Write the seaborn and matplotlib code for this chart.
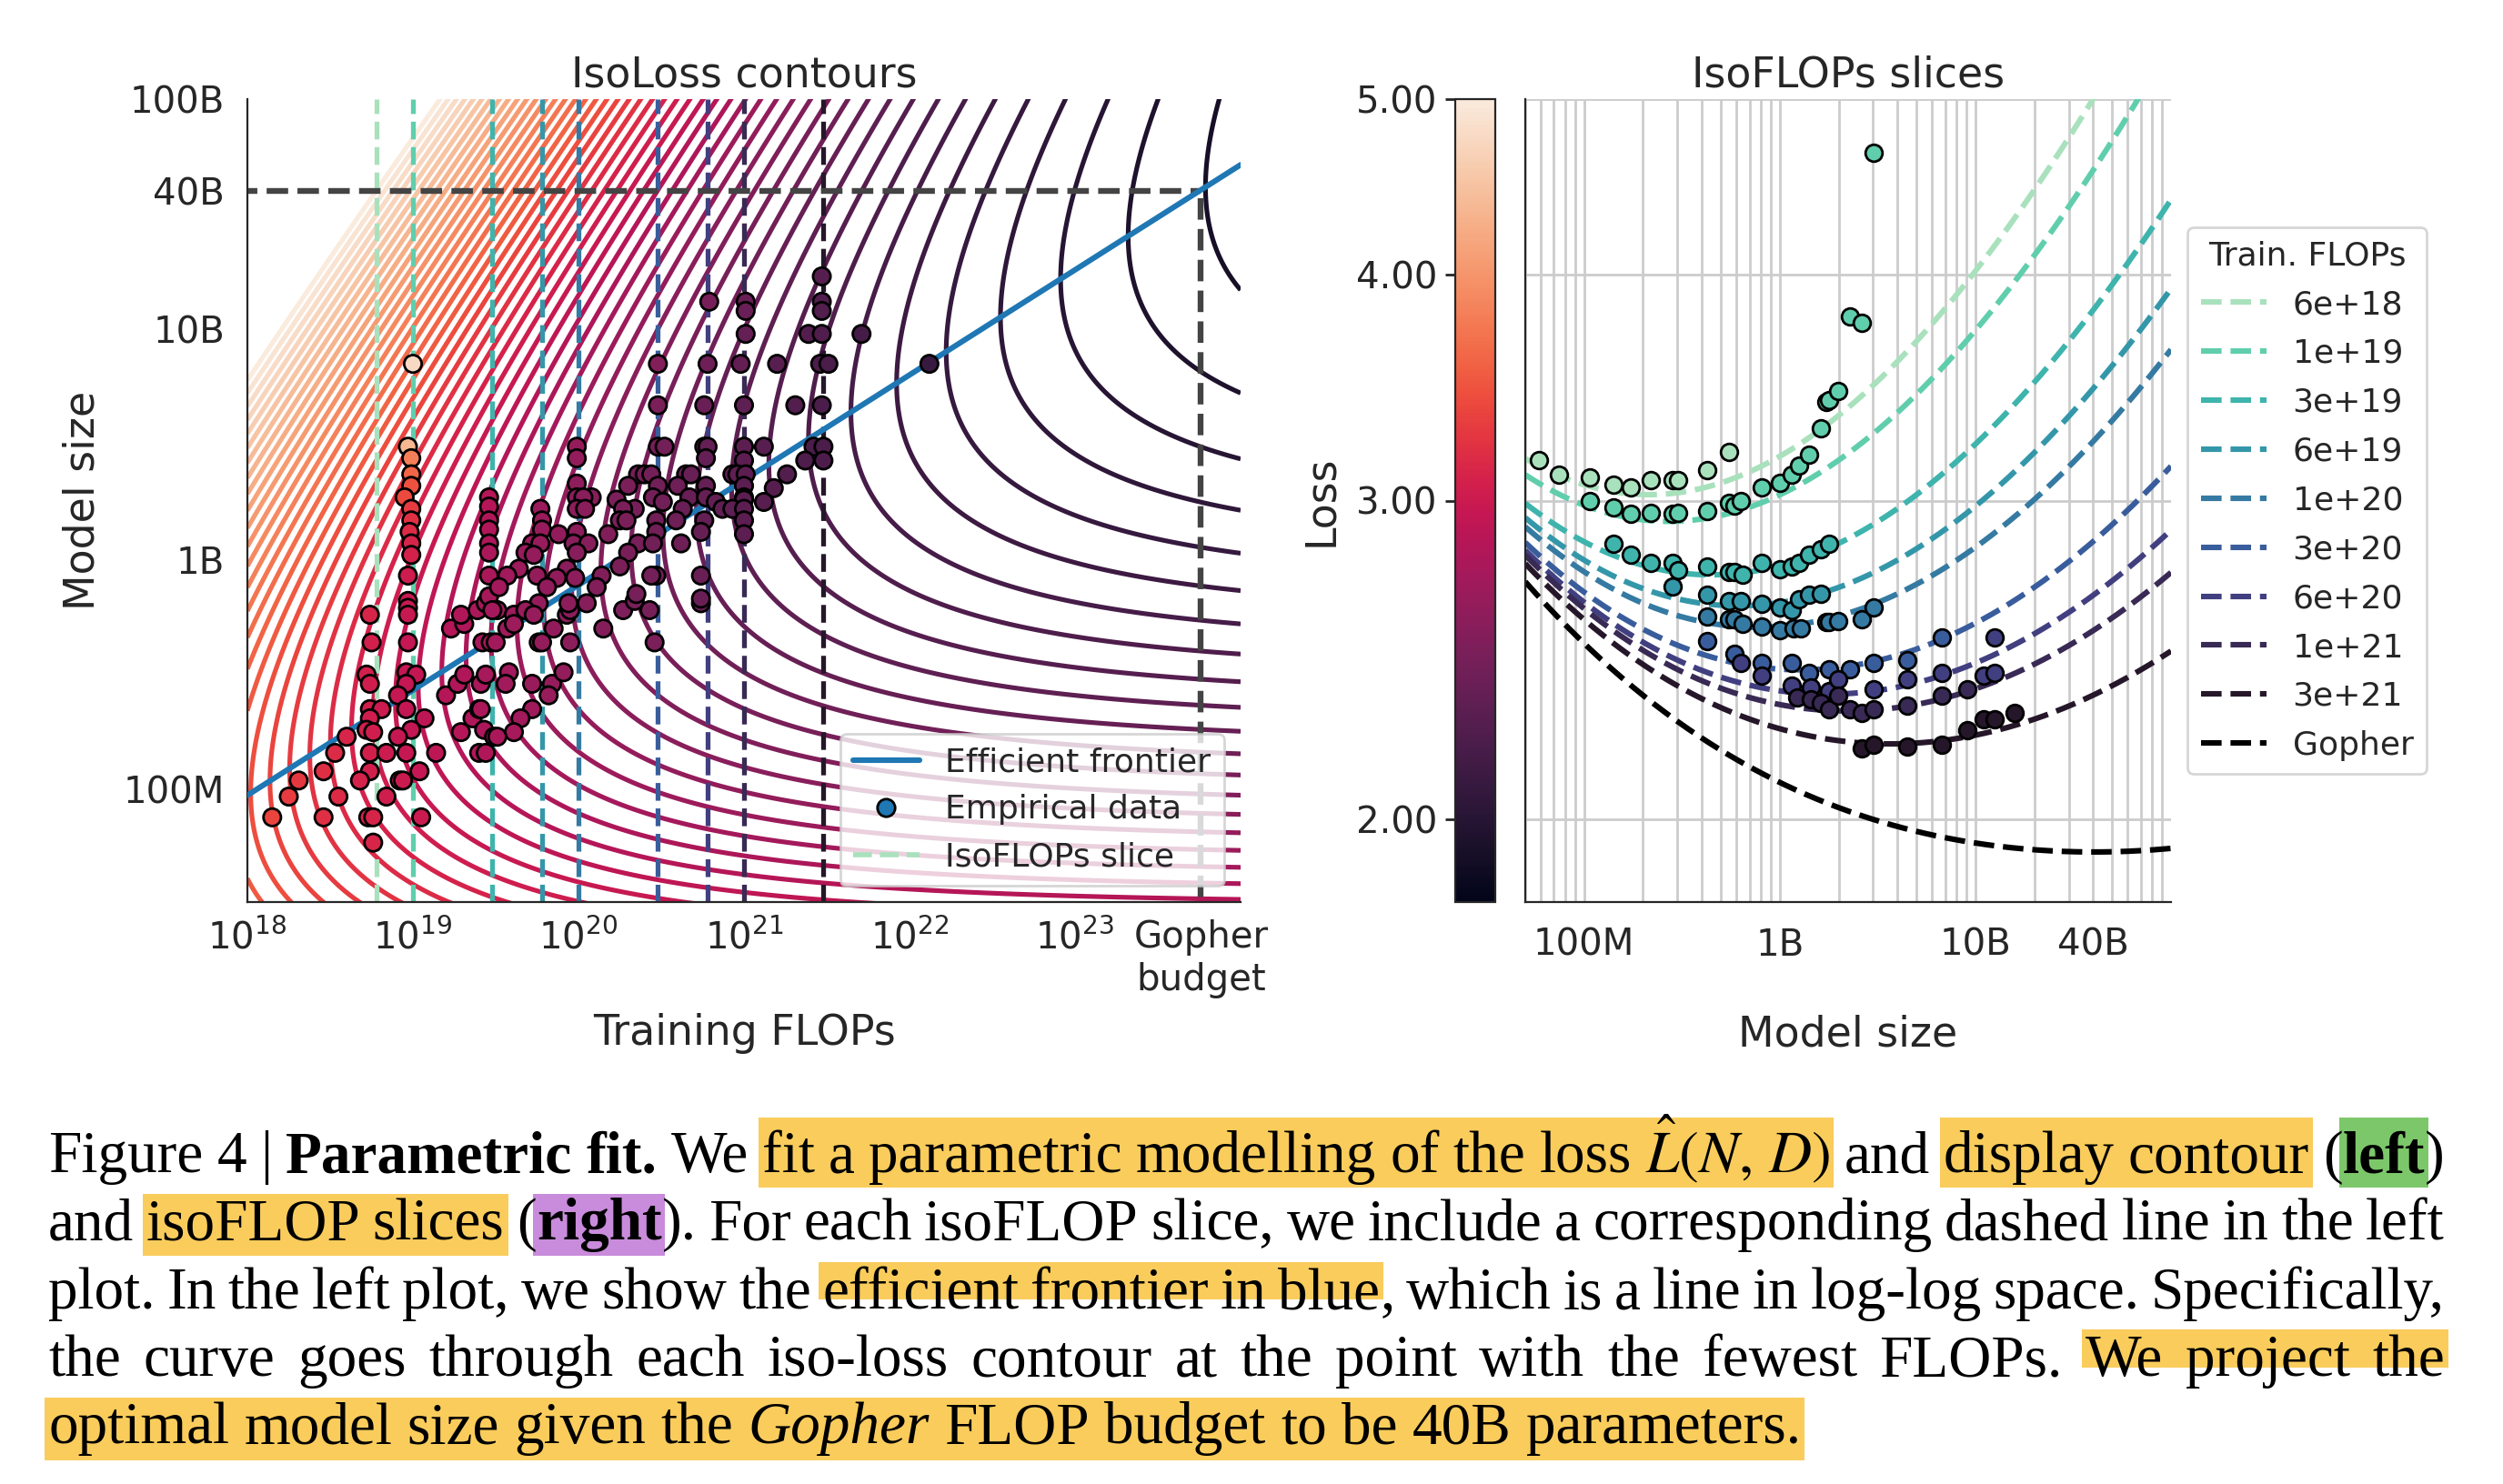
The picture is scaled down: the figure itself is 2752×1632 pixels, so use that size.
import re
import numpy as np
import pandas as pd
import matplotlib
matplotlib.use("Agg")
import matplotlib.pyplot as plt
from matplotlib import ticker
from matplotlib.colors import LogNorm
from matplotlib.lines import Line2D
from matplotlib.patches import Rectangle
import seaborn as sns

# -------------------------------
# fitted parametric loss  L(N, D) = E + A / N^alpha + B / D^beta
# -------------------------------
E, A, B = 1.6934, 406.4, 410.7
alpha, beta = 0.3392, 0.2849

gopher_flops = 5.76e23
gopher_params = 4e10

slice_flops = [6e18, 1e19, 3e19, 6e19, 1e20, 3e20, 6e20, 1e21, 3e21]
slice_labels = ["6e+18", "1e+19", "3e+19", "6e+19", "1e+20", "3e+20", "6e+20", "1e+21", "3e+21"]

flop_ticks = [1e18, 1e19, 1e20, 1e21, 1e22, 1e23, gopher_flops]
flop_ticklabels = [r"$10^{18}$", r"$10^{19}$", r"$10^{20}$", r"$10^{21}$",
                   r"$10^{22}$", r"$10^{23}$", "Gopher\nbudget"]
size_ticks = [1e8, 1e9, 1e10, 4e10, 1e11]
size_ticklabels = ["100M", "1B", "10B", "40B", "100B"]
size_ticks_r = [1e8, 1e9, 1e10, 4e10]
size_ticklabels_r = ["100M", "1B", "10B", "40B"]
loss_ticks = [2, 3, 4, 5]

# empirical runs, left plot: (log10 FLOPs, log10 params, final loss)
runs_small = [(18.74, 8.76, 3.11), (18.75, 8.64, 3.07), (18.72, 8.50, 3.07), (18.74, 8.46, 3.04),
              (18.74, 8.35, 3.05), (18.81, 8.35, 3.01), (18.74, 8.31, 3.04), (18.72, 8.26, 3.05),
              (18.76, 8.25, 3.04), (18.60, 8.23, 3.12), (18.53, 8.16, 3.16), (18.74, 8.16, 3.05),
              (18.84, 8.16, 3.01), (18.96, 8.16, 2.96), (19.14, 8.16, 2.90), (18.46, 8.08, 3.19),
              (18.74, 8.08, 3.05), (18.68, 8.04, 3.09), (18.92, 8.04, 3.00), (18.94, 8.04, 2.99),
              (19.04, 8.08, 2.95), (18.31, 8.04, 3.27), (18.25, 7.97, 3.30), (18.55, 7.97, 3.15),
              (18.84, 7.97, 3.04), (18.15, 7.88, 3.36), (18.46, 7.88, 3.21), (18.73, 7.88, 3.11),
              (18.76, 7.88, 3.10), (19.05, 7.88, 3.00), (18.76, 7.77, 3.12)]
runs_1e19 = [(19.00, 9.85, 4.75), (18.97, 9.49, 4.35), (18.99, 9.44, 3.80), (18.99, 9.37, 3.60),
             (18.99, 9.32, 3.45), (18.95, 9.27, 3.40), (18.99, 9.22, 3.30), (18.99, 9.17, 3.22),
             (18.98, 9.12, 3.16), (18.99, 9.07, 3.12), (18.99, 9.02, 3.08), (18.97, 8.93, 3.02),
             (18.97, 8.82, 2.98), (18.97, 8.79, 2.98), (18.97, 8.76, 2.97), (18.97, 8.64, 2.95),
             (18.96, 8.51, 2.95), (19.02, 8.50, 2.94), (18.96, 8.46, 2.95), (18.91, 8.41, 2.96),
             (18.96, 8.35, 2.94), (19.07, 8.31, 2.90), (18.99, 8.26, 2.93), (18.91, 8.23, 2.96)]
runs_2e19 = [(19.23, 8.70, 2.83), (19.31, 8.72, 2.80), (19.29, 8.76, 2.81), (19.39, 8.78, 2.77),
             (19.44, 8.81, 2.75), (19.42, 8.64, 2.75), (19.47, 8.64, 2.74), (19.20, 8.41, 2.84),
             (19.27, 8.46, 2.81), (19.31, 8.50, 2.80), (19.41, 8.46, 2.75), (19.44, 8.50, 2.74),
             (19.36, 8.31, 2.80), (19.40, 8.35, 2.78), (19.41, 8.35, 2.78), (19.29, 8.25, 2.83),
             (19.43, 8.26, 2.79), (19.49, 8.23, 2.78), (19.40, 8.16, 2.82), (19.44, 8.16, 2.81)]
runs_3e19 = [(19.46, 9.27, 2.84), (19.46, 9.23, 2.83), (19.46, 9.17, 2.81), (19.46, 9.13, 2.80),
             (19.46, 9.07, 2.79), (19.46, 9.03, 2.77), (19.46, 8.93, 2.76), (19.46, 8.84, 2.74)]
runs_1e20_low = [(19.76, 8.81, 2.63), (19.51, 8.78, 2.72), (19.48, 8.78, 2.73), (19.61, 8.76, 2.68),
                 (19.68, 8.78, 2.66), (19.73, 8.76, 2.65), (19.57, 8.70, 2.69), (19.61, 8.72, 2.68),
                 (19.85, 8.70, 2.61), (19.93, 8.76, 2.58), (19.95, 8.78, 2.57), (20.05, 8.81, 2.54),
                 (19.94, 8.81, 2.57), (19.50, 8.64, 2.72), (19.76, 8.64, 2.63), (19.78, 8.64, 2.62),
                 (19.95, 8.64, 2.58), (20.15, 8.70, 2.53), (20.27, 8.78, 2.49), (20.34, 8.82, 2.46),
                 (20.43, 8.78, 2.45), (20.46, 8.64, 2.47), (20.74, 8.81, 2.38), (19.58, 8.51, 2.71),
                 (19.56, 8.46, 2.71), (19.72, 8.46, 2.66), (19.84, 8.46, 2.63), (19.91, 8.51, 2.62),
                 (19.82, 8.41, 2.65), (19.72, 8.35, 2.69), (19.65, 8.31, 2.71), (19.61, 8.25, 2.74),
                 (19.51, 8.23, 2.77)]
runs_1e20_high = [(20.48, 9.85, 2.52), (20.78, 9.85, 2.40), (20.48, 9.67, 2.48), (20.76, 9.67, 2.38),
                  (20.48, 9.49, 2.44), (20.52, 9.49, 2.43), (20.76, 9.49, 2.36), (20.78, 9.49, 2.35),
                  (19.99, 9.49, 2.64), (19.99, 9.44, 2.62), (20.77, 9.44, 2.35), (20.36, 9.37, 2.45),
                  (20.40, 9.37, 2.44), (20.44, 9.37, 2.43), (20.65, 9.37, 2.38), (20.68, 9.37, 2.37),
                  (20.93, 9.37, 2.31), (20.30, 9.32, 2.48), (20.48, 9.32, 2.42), (20.60, 9.32, 2.39),
                  (20.77, 9.32, 2.35), (19.99, 9.33, 2.59), (20.08, 9.27, 2.55), (19.99, 9.27, 2.57),
                  (20.03, 9.27, 2.56), (20.23, 9.26, 2.49), (20.34, 9.22, 2.46), (20.27, 9.22, 2.48),
                  (20.45, 9.27, 2.43), (20.51, 9.25, 2.41), (20.67, 9.27, 2.37), (20.77, 9.27, 2.35),
                  (20.83, 9.25, 2.34), (20.87, 9.22, 2.32), (20.63, 9.22, 2.38), (19.99, 9.22, 2.57),
                  (20.04, 9.22, 2.56), (19.77, 9.22, 2.67), (19.78, 9.17, 2.66), (20.25, 9.17, 2.49),
                  (20.29, 9.17, 2.48), (20.47, 9.17, 2.42), (20.59, 9.17, 2.39), (20.76, 9.17, 2.35),
                  (19.78, 9.13, 2.65), (19.88, 9.11, 2.61), (19.99, 9.12, 2.57), (20.18, 9.11, 2.51),
                  (20.47, 9.12, 2.42), (20.74, 9.12, 2.36), (19.72, 9.07, 2.66), (19.77, 9.07, 2.65),
                  (19.97, 9.07, 2.56), (20.06, 9.07, 2.54), (20.36, 9.07, 2.45), (20.45, 9.07, 2.42),
                  (20.62, 9.07, 2.39), (19.68, 9.03, 2.65), (19.73, 9.02, 2.64), (19.99, 9.03, 2.55),
                  (20.30, 9.03, 2.46), (20.25, 8.97, 2.48), (19.64, 8.96, 2.68), (19.93, 8.96, 2.57),
                  (20.47, 8.93, 2.43), (20.44, 8.93, 2.43), (20.74, 8.93, 2.37), (19.57, 8.93, 2.71),
                  (19.75, 8.93, 2.64), (19.87, 8.92, 2.61), (19.98, 8.92, 2.59), (20.14, 8.93, 2.51),
                  (19.52, 8.88, 2.72), (19.81, 8.88, 2.61), (20.11, 8.88, 2.52), (20.35, 8.85, 2.45),
                  (20.74, 8.83, 2.38)]
runs_1e21 = [(21.47, 10.23, 2.26), (21.47, 10.12, 2.24), (21.47, 10.08, 2.24), (20.79, 10.12, 2.46),
             (21.01, 10.12, 2.38), (21.01, 10.08, 2.37), (21.01, 9.98, 2.35), (21.39, 9.98, 2.25),
             (21.47, 9.98, 2.23), (21.71, 9.98, 2.17), (22.12, 9.85, 2.10), (20.98, 9.85, 2.34),
             (21.20, 9.85, 2.28), (21.46, 9.85, 2.21), (21.51, 9.85, 2.20), (21.00, 9.67, 2.31),
             (21.31, 9.67, 2.24), (21.47, 9.67, 2.20), (21.00, 9.49, 2.30), (21.12, 9.49, 2.27),
             (21.42, 9.49, 2.21), (21.48, 9.49, 2.20), (21.00, 9.43, 2.30), (21.37, 9.43, 2.22),
             (21.48, 9.43, 2.21), (20.96, 9.37, 2.31), (21.01, 9.37, 2.30), (21.26, 9.37, 2.24),
             (21.00, 9.32, 2.29), (21.18, 9.31, 2.26), (21.00, 9.27, 2.29), (21.00, 9.26, 2.29),
             (21.12, 9.25, 2.27), (20.93, 9.22, 2.31), (21.00, 9.22, 2.30), (21.00, 9.17, 2.30),
             (21.00, 9.11, 2.30)]

# isoFLOP slice points, right plot: (log10 params, loss), one list per budget
iso_6e18 = [(7.77, 3.16), (7.87, 3.10), (8.03, 3.09), (8.15, 3.06), (8.24, 3.05), (8.34, 3.08),
            (8.45, 3.08), (8.48, 3.08), (8.63, 3.12), (8.74, 3.19)]
iso_1e19 = [(8.03, 3.00), (8.15, 2.975), (8.24, 2.95), (8.34, 2.955), (8.45, 2.95), (8.48, 2.955),
            (8.63, 2.96), (8.74, 2.99), (8.77, 2.98), (8.80, 3.00), (8.91, 3.05), (9.00, 3.07),
            (9.06, 3.10), (9.10, 3.135), (9.15, 3.18), (9.21, 3.29), (9.24, 3.40), (9.25, 3.41),
            (9.30, 3.45), (9.36, 3.79), (9.42, 3.76), (9.48, 4.67)]
iso_3e19 = [(8.15, 2.84), (8.24, 2.80), (8.34, 2.77), (8.45, 2.77), (8.48, 2.745), (8.63, 2.76),
            (8.74, 2.74), (8.77, 2.74), (8.81, 2.73), (8.91, 2.77), (9.00, 2.75), (9.06, 2.76),
            (9.10, 2.77), (9.15, 2.80), (9.21, 2.82), (9.25, 2.84)]
iso_6e19 = [(8.45, 2.69), (8.63, 2.66), (8.74, 2.64), (8.80, 2.64), (8.91, 2.63), (9.00, 2.62),
            (9.06, 2.61), (9.10, 2.645), (9.15, 2.66), (9.21, 2.665)]
iso_1e20 = [(8.63, 2.59), (8.74, 2.58), (8.77, 2.58), (8.81, 2.565), (8.91, 2.555), (9.00, 2.545),
            (9.07, 2.55), (9.11, 2.55), (9.24, 2.57), (9.25, 2.57), (9.30, 2.575), (9.42, 2.58),
            (9.48, 2.62)]
iso_3e20 = [(8.63, 2.51), (8.77, 2.47), (8.91, 2.44), (9.06, 2.44), (9.15, 2.41), (9.25, 2.42),
            (9.36, 2.42), (9.48, 2.44), (9.65, 2.45), (9.83, 2.52)]
iso_6e20 = [(8.80, 2.44), (8.91, 2.40), (9.06, 2.37), (9.16, 2.365), (9.25, 2.355), (9.30, 2.39),
            (9.48, 2.36), (9.65, 2.39), (9.83, 2.41), (10.04, 2.40), (10.10, 2.41), (10.10, 2.52)]
iso_1e21 = [(9.09, 2.335), (9.16, 2.33), (9.21, 2.32), (9.25, 2.30), (9.30, 2.34), (9.36, 2.30),
            (9.42, 2.29), (9.48, 2.30), (9.65, 2.31), (9.83, 2.34), (9.96, 2.36)]
iso_3e21 = [(9.42, 2.19), (9.48, 2.20), (9.65, 2.195), (9.83, 2.20), (9.96, 2.24), (10.04, 2.27),
            (10.10, 2.27), (10.20, 2.29)]
iso_points = [iso_6e18, iso_1e19, iso_3e19, iso_6e19, iso_1e20, iso_3e20, iso_6e20, iso_1e21, iso_3e21]

runs = pd.DataFrame(runs_small + runs_1e19 + runs_2e19 + runs_3e19 + runs_1e20_low
                    + runs_1e20_high + runs_1e21, columns=["log_flops", "log_params", "loss"])
runs["flops"] = 10 ** runs.log_flops
runs["params"] = 10 ** runs.log_params

# -------------------------------
# figure
# -------------------------------
sns.set_style("white")
plt.rcParams["font.family"] = ["DejaVu Sans"]
W, H = 2752, 1632
fig = plt.figure(figsize=(W / 200, H / 200), dpi=200)

def rect(x0, y0, x1, y1):
    return [x0 / W, 1 - y1 / H, (x1 - x0) / W, (y1 - y0) / H]

ax1 = fig.add_axes(rect(272, 109, 1364, 992))
cax = fig.add_axes(rect(1600, 109, 1644, 992))
ax2 = fig.add_axes(rect(1677, 109, 2387, 992))

norm = LogNorm(1.8, 5.0)
pal = sns.color_palette("mako_r", 9) + [(0, 0, 0)]
TICK, LAB = 14.5, 16.5

# ---- left: IsoLoss contours
cc, nn = np.meshgrid(np.logspace(18, 24, 500), np.logspace(7.4, 11.1, 500))
loss_grid = E + A / nn ** alpha + B / (cc / (6 * nn)) ** beta
ax1.contour(cc, nn, loss_grid, levels=np.geomspace(1.8, 5.0, 50), cmap="rocket",
            norm=norm, linewidths=1.85, zorder=1)

for f, col in zip(slice_flops, pal):
    ax1.axvline(f, color=col, ls="--", lw=1.9, zorder=2)
ax1.vlines(gopher_flops, 1e7, gopher_params, color="#444444", ls="--", lw=2.3, zorder=2)
ax1.hlines(gopher_params, 1e17, gopher_flops, color="#444444", ls="--", lw=2.3, zorder=2)

# efficient frontier
a_exp = beta / (alpha + beta)
G = (alpha * A / (beta * B)) ** (1 / (alpha + beta))
c_line = np.logspace(18, 24, 200)
ax1.plot(c_line, G * (c_line / 6) ** a_exp, color="#1f77b4", lw=2.2, zorder=3)

sns.scatterplot(data=runs, x="flops", y="params", hue="loss", palette="rocket", hue_norm=norm,
                s=48, edgecolor="black", linewidth=1, legend=False, ax=ax1, zorder=4)

ax1.set_xscale("log")
ax1.set_yscale("log")
ax1.set_xlim(1e18, 1e24)
ax1.set_ylim(3.25e7, 1e11)
ax1.set_xticks(flop_ticks)
ax1.set_xticklabels(flop_ticklabels)
ax1.set_yticks(size_ticks)
ax1.set_yticklabels(size_ticklabels)
ax1.xaxis.set_minor_locator(ticker.NullLocator())
ax1.yaxis.set_minor_locator(ticker.NullLocator())
ax1.tick_params(axis="x", length=0, pad=7, labelsize=TICK)
ax1.tick_params(axis="y", length=0, pad=9, labelsize=TICK)
ax1.set_xlabel("Training FLOPs", fontsize=LAB, labelpad=6)
ax1.set_ylabel("Model size", fontsize=LAB, labelpad=8)
ax1.set_title("IsoLoss contours", fontsize=LAB, pad=5)
sns.despine(ax=ax1)

handles = [Line2D([], [], color="#1f77b4", lw=2.2),
           Line2D([], [], ls="", marker="o", ms=7, mfc="#1f77b4", mec="black", mew=1),
           Line2D([], [], color=pal[0], ls="--", lw=2)]
ax1.legend(handles, ["Efficient frontier", "Empirical data", "IsoFLOPs slice"],
           loc="lower right", fontsize=13)

# ---- right: IsoFLOPs slices
n_grid = np.geomspace(5e7, 1e11, 300)
for i, (f, lab) in enumerate(zip(slice_flops + [gopher_flops], slice_labels + ["Gopher"])):
    curve = E + A / n_grid ** alpha + B / (f / (6 * n_grid)) ** beta
    ax2.plot(n_grid, curve, ls="--", lw=2.2, color=pal[i], label=lab, zorder=2)

for i, pts in enumerate(iso_points):
    df = pd.DataFrame(pts, columns=["log_params", "loss"])
    sns.scatterplot(x=10 ** df.log_params, y=df.loss, color=pal[i], s=45,
                    edgecolor="black", linewidth=1, legend=False, ax=ax2, zorder=4)

ax2.set_xscale("log")
ax2.set_yscale("log")
ax2.set_xlim(5e7, 1e11)
ax2.set_ylim(1.8, 5.0)
ax2.set_xticks(size_ticks_r)
ax2.set_xticklabels(size_ticklabels_r)
ax2.xaxis.set_minor_locator(ticker.LogLocator(base=10, subs=np.arange(2, 10)))
ax2.xaxis.set_minor_formatter(ticker.NullFormatter())
ax2.set_yticks(loss_ticks)
ax2.set_yticklabels([])
ax2.yaxis.set_minor_locator(ticker.NullLocator())
ax2.grid(True, which="both", axis="x", color="#cccccc", lw=1)
ax2.grid(True, which="major", axis="y", color="#cccccc", lw=1)
ax2.set_axisbelow(True)
ax2.tick_params(axis="both", which="both", length=0, labelsize=TICK)
ax2.tick_params(axis="x", pad=10)
ax2.set_xlabel("Model size", fontsize=LAB, labelpad=20)
ax2.set_ylabel("")
ax2.set_title("IsoFLOPs slices", fontsize=LAB, pad=5)
sns.despine(ax=ax2)
ax2.legend(title="Train. FLOPs", loc="center left", bbox_to_anchor=(1.0, 0.5),
           fontsize=13, title_fontsize=13, labelspacing=0.55)

# colorbar
sm = plt.cm.ScalarMappable(norm=norm, cmap="rocket")
cb = fig.colorbar(sm, cax=cax)
cb.set_ticks(loss_ticks)
cb.minorticks_off()
cax.yaxis.set_major_formatter(ticker.FormatStrFormatter("%.2f"))
cax.yaxis.set_ticks_position("left")
cax.yaxis.set_label_position("left")
cax.tick_params(length=4, width=1, pad=3, labelsize=TICK)
cb.set_label("Loss", fontsize=LAB, labelpad=6)

# -------------------------------
# caption
# -------------------------------
cap_lines = [
    [("Figure 4 | ", "n", None), ("Parametric fit.", "b", None), (" We ", "n", None),
     ("fit a parametric modelling of the loss ", "n", "y"), (r"$\hat{L}(N,\,D)$", "m", "y"),
     (" and ", "n", None), ("display contour", "n", "y"), (" (", "n", None),
     ("left", "b", "g"), (")", "n", None)],
    [("and ", "n", None), ("isoFLOP slices", "n", "y"), (" (", "n", None), ("right", "b", "p"),
     (").", "n", None),
     (" For each isoFLOP slice, we include a corresponding dashed line in the left", "n", None)],
    [("plot. In the left plot, we show the ", "n", None), ("efficient frontier in blue", "n", "y"),
     (", which is a line in log-log space. Specifically,", "n", None)],
    [("the curve goes through each iso-loss contour at the point with the fewest FLOPs. ", "n", None),
     ("We project the", "n", "y")],
    [("optimal model size given the ", "n", "y"), ("Gopher", "i", "y"),
     (" FLOP budget to be 40B parameters.", "n", "y")],
]
cap_justify = [True, True, True, True, False]
cap_baseline = [1289, 1363, 1439, 1513, 1587]
cap_box = [(1229, 1306), (1313, 1381), (1388, 1429), (1462, 1504), (1537, 1606)]
hl_colors = {"y": "#F9CC5C", "g": "#7DC76B", "p": "#C98BDB"}
text_left, text_right, last_line_end = 53, 2688, 1980

renderer = fig.canvas.get_renderer()

def props(style, size):
    p = dict(fontsize=size, color="black", family="Liberation Serif")
    if style == "b":
        p["weight"] = "bold"
    if style == "i":
        p["style"] = "italic"
    if style == "m":
        p["math_fontfamily"] = "stix"
    return p

def width(text, style, size):
    t = fig.text(0, 0, text, **props(style, size))
    w = t.get_window_extent(renderer).width
    t.remove()
    return w

def split_words(spans):
    words, cur = [], []
    for text, style, hl in spans:
        for tok in re.split(r"(\s+)", text):
            if not tok:
                continue
            if tok.isspace():
                if cur:
                    words.append(cur)
                    cur = []
            else:
                cur.append((tok, style, hl))
    if cur:
        words.append(cur)
    return words

cap_words = [split_words(s) for s in cap_lines]

# size the caption so the last (unjustified) line ends where it does in the paper
size = 22.0
space_w = width("a a", "n", size) - width("aa", "n", size)
nat = sum(width(t, st, size) for w in cap_words[-1] for t, st, _ in w) + space_w * (len(cap_words[-1]) - 1)
size *= (last_line_end - text_left) / nat
space_w = width("a a", "n", size) - width("aa", "n", size)

for words, just, base, (btop, bbot) in zip(cap_words, cap_justify, cap_baseline, cap_box):
    seg_w = [[width(t, st, size) for t, st, _ in w] for w in words]
    total = sum(sum(s) for s in seg_w)
    gap = (text_right - text_left - total) / (len(words) - 1) if just else space_w
    x = text_left
    placed = []
    for w, ws in zip(words, seg_w):
        for (t, st, hl), sw in zip(w, ws):
            fig.text(x / W, 1 - base / H, t, ha="left", va="baseline", zorder=3, **props(st, size))
            placed.append((x, x + sw, hl))
            x += sw
        x += gap
    boxes = []
    prev = None
    for x0, x1, hl in placed:
        if hl and hl == prev:
            boxes[-1][1] = x1
        elif hl:
            boxes.append([x0, x1, hl])
        prev = hl
    for x0, x1, hl in boxes:
        x0 -= 4
        x1 += 4
        fig.add_artist(Rectangle((x0 / W, 1 - bbot / H), (x1 - x0) / W, (bbot - btop) / H,
                                 transform=fig.transFigure, facecolor=hl_colors[hl],
                                 edgecolor="none", zorder=1))

fig.savefig("out.png", dpi=200)
